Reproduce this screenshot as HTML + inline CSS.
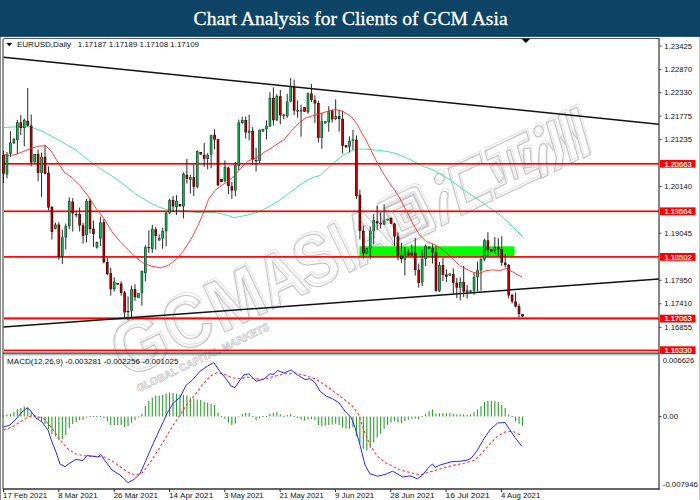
<!DOCTYPE html>
<html><head><meta charset="utf-8"><title>Chart Analysis for Clients of GCM Asia</title>
<style>html,body{margin:0;padding:0;background:#fff;width:700px;height:500px;overflow:hidden}svg{display:block}text{font-family:"Liberation Sans",sans-serif}.t{font-family:"Liberation Serif",serif}</style></head><body>
<svg width="700" height="500" viewBox="0 0 700 500">
<rect x="0" y="0" width="700" height="500" fill="#fff"/>
<rect x="0" y="0" width="700" height="36.6" fill="#0d4466"/>
<rect x="0" y="35.4" width="700" height="1.2" fill="#053a60"/>
<text class="t" x="350.6" y="24.8" font-size="19.3" fill="#fff" stroke="#fff" stroke-width="0.3" text-anchor="middle" textLength="314" lengthAdjust="spacingAndGlyphs">Chart Analysis for Clients of GCM Asia</text>
<rect x="0" y="37" width="1" height="463" fill="#8a8a8a"/>
<rect x="699" y="37" width="1" height="463" fill="#c8c8c8"/>
<g fill="none" stroke="#c6c6c6" stroke-width="1.25" transform="translate(126,379.5) rotate(-25.6)">
<g stroke="#e2e2e2" stroke-width="1" transform="translate(2.2,-2.4)"><text x="0" y="0" font-size="74" font-weight="bold" textLength="54" lengthAdjust="spacingAndGlyphs">G</text><text x="56.5" y="0" font-size="74" font-weight="bold" textLength="46" lengthAdjust="spacingAndGlyphs">C</text><text x="105.3" y="0" font-size="74" font-weight="bold" textLength="56" lengthAdjust="spacingAndGlyphs">M</text><text x="161" y="0" font-size="74" font-weight="bold" textLength="44" lengthAdjust="spacingAndGlyphs">A</text><text x="202.4" y="0" font-size="74" font-weight="bold" textLength="40" lengthAdjust="spacingAndGlyphs">S</text><text x="244" y="0" font-size="74" font-weight="bold" textLength="15" lengthAdjust="spacingAndGlyphs">I</text><text x="258" y="0" font-size="74" font-weight="bold" textLength="44" lengthAdjust="spacingAndGlyphs">A</text><g transform="translate(-8,-2) scale(1,1.04)"><g transform="translate(308,-46)"><rect x="0" y="0" width="46" height="47" rx="5"/><rect x="7" y="7" width="32" height="33" stroke-width="2"/><path d="M13 13h20v6h-14v9h14v6h-20z"/><path d="M24 21.5h9v4h-9z"/></g><g transform="translate(366,0) skewX(-10)"><circle cx="4" cy="-42" r="5"/><path d="M-7 0q1-16 7-27q3-4 7-1q2 3-1 7q-4 9-5 21z"/><path d="M15 -47h35v9h-26v28h26v9h-35z"/></g><g transform="translate(421,0) skewX(-10)"><path d="M1 -47h46v9h-13v28h15v9h-50v-9h14v-28h-12z"/><path d="M22 -38h4v28h-4z"/><path d="M2 -31l7-2 4 17-7 2zM46 -31l-7-2-4 17 7 2z"/></g><g transform="translate(476,0) skewX(-10)"><circle cx="4" cy="-42" r="5"/><path d="M-7 0q1-16 7-27q3-4 7-1q2 3-1 7q-4 9-5 21z"/><path d="M14 -46h8v34l-6 12h-8l6-12zM27 -47h8v46h-8zM40 -47h8v47h-8z"/><path d="M10 -28l3 9M23.5 -28l3 9M36.500 -28l3 9"/></g></g></g>
<text x="0" y="0" font-size="74" font-weight="bold" textLength="54" lengthAdjust="spacingAndGlyphs">G</text><text x="56.5" y="0" font-size="74" font-weight="bold" textLength="46" lengthAdjust="spacingAndGlyphs">C</text><text x="105.3" y="0" font-size="74" font-weight="bold" textLength="56" lengthAdjust="spacingAndGlyphs">M</text><text x="161" y="0" font-size="74" font-weight="bold" textLength="44" lengthAdjust="spacingAndGlyphs">A</text><text x="202.4" y="0" font-size="74" font-weight="bold" textLength="40" lengthAdjust="spacingAndGlyphs">S</text><text x="244" y="0" font-size="74" font-weight="bold" textLength="15" lengthAdjust="spacingAndGlyphs">I</text><text x="258" y="0" font-size="74" font-weight="bold" textLength="44" lengthAdjust="spacingAndGlyphs">A</text>
<text x="6" y="17" font-size="10.5" font-weight="bold" stroke-width="0.7" textLength="146" lengthAdjust="spacingAndGlyphs">GLOBAL CAPITAL MARKETS</text>
<g transform="translate(-8,-2) scale(1,1.04)"><g transform="translate(308,-46)"><rect x="0" y="0" width="46" height="47" rx="5"/><rect x="7" y="7" width="32" height="33" stroke-width="2"/><path d="M13 13h20v6h-14v9h14v6h-20z"/><path d="M24 21.5h9v4h-9z"/></g><g transform="translate(366,0) skewX(-10)"><circle cx="4" cy="-42" r="5"/><path d="M-7 0q1-16 7-27q3-4 7-1q2 3-1 7q-4 9-5 21z"/><path d="M15 -47h35v9h-26v28h26v9h-35z"/></g><g transform="translate(421,0) skewX(-10)"><path d="M1 -47h46v9h-13v28h15v9h-50v-9h14v-28h-12z"/><path d="M22 -38h4v28h-4z"/><path d="M2 -31l7-2 4 17-7 2zM46 -31l-7-2-4 17 7 2z"/></g><g transform="translate(476,0) skewX(-10)"><circle cx="4" cy="-42" r="5"/><path d="M-7 0q1-16 7-27q3-4 7-1q2 3-1 7q-4 9-5 21z"/><path d="M14 -46h8v34l-6 12h-8l6-12zM27 -47h8v46h-8zM40 -47h8v47h-8z"/><path d="M10 -28l3 9M23.5 -28l3 9M36.500 -28l3 9"/></g></g>
</g>
<g fill="none" stroke="#555" stroke-width="1.2">
<path d="M3 489V40.5Q3 38.5 5 38.5H659"/>
</g>
<path d="M659 38V489.5" stroke="#444" stroke-width="1.3" fill="none"/>
<path d="M3 353.2H659" stroke="#333" stroke-width="1.2" fill="none"/>
<path d="M3 354.8H659" stroke="#9a9a9a" stroke-width="1" fill="none"/>
<path d="M3 489H659.6" stroke="#333" stroke-width="1.3" fill="none"/>
<path d="M521.6 38.8H530.2L525.9 43z" fill="#000"/>
<rect x="359.5" y="246.3" width="155" height="10.5" fill="#00ff00"/>
<polyline points="3.5,127.5 16.0,126.9 30.4,126.7 40.0,130.4 51.2,136.0 64.0,143.2 75.2,149.6 83.2,156.0 96.0,165.6 104.0,171.2 112.0,176.0 125.0,185.5 135.0,193.6 143.0,198.4 151.0,203.2 159.0,207.2 167.0,209.6 175.0,210.4 186.2,210.4 194.2,212.3 203.8,212.8 215.0,212.5 224.6,214.4 234.2,217.6 240.6,216.5 247.0,215.2 260.0,211.5 270.0,206.0 280.0,200.0 290.0,192.5 300.0,185.0 310.0,178.5 320.0,175.4 328.0,168.2 336.0,161.0 344.0,154.6 352.0,150.3 358.4,149.0 368.0,149.3 377.6,150.3 387.2,151.4 396.8,153.8 406.4,157.8 416.0,162.6 424.0,166.6 432.0,169.5 441.0,174.5 450.0,180.0 462.0,188.5 475.0,197.5 487.0,206.0 500.0,215.0 511.0,225.0 522.5,236.5" fill="none" stroke="#3ee89a" stroke-width="0.95" stroke-linejoin="round"/>
<rect x="4" y="162.95" width="655" height="1.7" fill="#ff0000"/>
<rect x="4" y="210.45" width="655" height="1.7" fill="#ff0000"/>
<rect x="4" y="256.05" width="655" height="1.7" fill="#ff0000"/>
<rect x="4" y="349.55" width="655" height="1.7" fill="#ff0000"/>
<rect x="4" y="316.9" width="655" height="0.9" fill="#7f9a9a"/>
<rect x="4" y="317.75" width="655" height="1.7" fill="#ff0000"/>
<path d="M3.5 57.3L659 124.2" stroke="#111" stroke-width="1.5" fill="none"/>
<path d="M3.5 327L659 279" stroke="#111" stroke-width="1.5" fill="none"/>
<g shape-rendering="auto">
<rect x="3.00" y="151.0" width="1" height="32.0" fill="#2a2a2a"/>
<rect x="2.20" y="155.0" width="2.6" height="18.6" fill="#300000"/>
<rect x="2.85" y="155.5" width="1.3" height="17.6" fill="#c40000"/>
<rect x="6.46" y="152.0" width="1" height="26.4" fill="#2a2a2a"/>
<rect x="5.66" y="154.4" width="2.6" height="20.0" fill="#0a3a1c"/>
<rect x="6.31" y="154.9" width="1.3" height="19.0" fill="#12b858"/>
<rect x="9.92" y="131.2" width="1" height="25.6" fill="#2a2a2a"/>
<rect x="9.12" y="142.5" width="2.6" height="11.3" fill="#0a3a1c"/>
<rect x="9.77" y="143.0" width="1.3" height="10.3" fill="#12b858"/>
<rect x="13.38" y="137.6" width="1" height="6.4" fill="#2a2a2a"/>
<rect x="12.58" y="139.2" width="2.6" height="4.0" fill="#0a3a1c"/>
<rect x="13.23" y="139.7" width="1.3" height="3.0" fill="#12b858"/>
<rect x="16.84" y="120.0" width="1" height="34.0" fill="#2a2a2a"/>
<rect x="16.04" y="122.4" width="2.6" height="17.6" fill="#0a3a1c"/>
<rect x="16.69" y="122.9" width="1.3" height="16.6" fill="#12b858"/>
<rect x="20.30" y="115.2" width="1" height="20.0" fill="#2a2a2a"/>
<rect x="19.50" y="122.4" width="2.6" height="5.6" fill="#300000"/>
<rect x="20.15" y="122.9" width="1.3" height="4.6" fill="#c40000"/>
<rect x="23.76" y="118.4" width="1" height="28.0" fill="#2a2a2a"/>
<rect x="22.96" y="120.0" width="2.6" height="8.0" fill="#0a3a1c"/>
<rect x="23.61" y="120.5" width="1.3" height="7.0" fill="#12b858"/>
<rect x="27.22" y="88.0" width="1" height="38.4" fill="#2a2a2a"/>
<rect x="26.42" y="120.8" width="2.6" height="4.8" fill="#300000"/>
<rect x="27.07" y="121.3" width="1.3" height="3.8" fill="#c40000"/>
<rect x="30.68" y="114.4" width="1" height="52.0" fill="#2a2a2a"/>
<rect x="29.88" y="125.6" width="2.6" height="36.8" fill="#300000"/>
<rect x="30.53" y="126.1" width="1.3" height="35.8" fill="#c40000"/>
<rect x="34.14" y="154.0" width="1" height="8.4" fill="#2a2a2a"/>
<rect x="33.34" y="154.0" width="2.6" height="8.4" fill="#0a3a1c"/>
<rect x="33.99" y="154.5" width="1.3" height="7.4" fill="#12b858"/>
<rect x="37.60" y="149.6" width="1" height="31.7" fill="#2a2a2a"/>
<rect x="36.80" y="154.0" width="2.6" height="18.8" fill="#300000"/>
<rect x="37.45" y="154.5" width="1.3" height="17.8" fill="#c40000"/>
<rect x="41.06" y="152.5" width="1" height="44.3" fill="#2a2a2a"/>
<rect x="40.26" y="156.8" width="2.6" height="16.0" fill="#0a3a1c"/>
<rect x="40.91" y="157.3" width="1.3" height="15.0" fill="#12b858"/>
<rect x="44.52" y="144.8" width="1" height="29.6" fill="#2a2a2a"/>
<rect x="43.72" y="156.8" width="2.6" height="16.8" fill="#300000"/>
<rect x="44.37" y="157.3" width="1.3" height="15.8" fill="#c40000"/>
<rect x="47.98" y="166.4" width="1" height="44.0" fill="#2a2a2a"/>
<rect x="47.18" y="172.8" width="2.6" height="34.7" fill="#300000"/>
<rect x="47.83" y="173.3" width="1.3" height="33.7" fill="#c40000"/>
<rect x="51.44" y="206.0" width="1" height="33.5" fill="#2a2a2a"/>
<rect x="50.64" y="207.0" width="2.6" height="24.8" fill="#300000"/>
<rect x="51.29" y="207.5" width="1.3" height="23.8" fill="#c40000"/>
<rect x="54.90" y="222.5" width="1" height="6.9" fill="#2a2a2a"/>
<rect x="54.10" y="224.6" width="2.6" height="4.0" fill="#0a3a1c"/>
<rect x="54.75" y="225.1" width="1.3" height="3.0" fill="#12b858"/>
<rect x="58.36" y="222.2" width="1" height="37.6" fill="#2a2a2a"/>
<rect x="57.56" y="224.6" width="2.6" height="32.0" fill="#300000"/>
<rect x="58.21" y="225.1" width="1.3" height="31.0" fill="#c40000"/>
<rect x="61.82" y="229.4" width="1" height="34.4" fill="#2a2a2a"/>
<rect x="61.02" y="237.4" width="2.6" height="19.2" fill="#0a3a1c"/>
<rect x="61.67" y="237.9" width="1.3" height="18.2" fill="#12b858"/>
<rect x="65.28" y="223.5" width="1" height="25.9" fill="#2a2a2a"/>
<rect x="64.48" y="226.2" width="2.6" height="11.2" fill="#0a3a1c"/>
<rect x="65.13" y="226.7" width="1.3" height="10.2" fill="#12b858"/>
<rect x="68.74" y="197.4" width="1" height="32.0" fill="#2a2a2a"/>
<rect x="67.94" y="201.0" width="2.6" height="25.2" fill="#0a3a1c"/>
<rect x="68.59" y="201.5" width="1.3" height="24.2" fill="#12b858"/>
<rect x="72.20" y="198.2" width="1" height="33.3" fill="#2a2a2a"/>
<rect x="71.40" y="201.7" width="2.6" height="11.7" fill="#300000"/>
<rect x="72.05" y="202.2" width="1.3" height="10.7" fill="#c40000"/>
<rect x="75.66" y="211.8" width="1" height="5.6" fill="#2a2a2a"/>
<rect x="74.76" y="214.0" width="2.8" height="1.2" fill="#222"/>
<rect x="79.12" y="207.5" width="1" height="24.0" fill="#2a2a2a"/>
<rect x="78.32" y="213.9" width="2.6" height="11.5" fill="#300000"/>
<rect x="78.97" y="214.4" width="1.3" height="10.5" fill="#c40000"/>
<rect x="82.58" y="223.0" width="1" height="20.5" fill="#2a2a2a"/>
<rect x="81.78" y="225.4" width="2.6" height="10.4" fill="#300000"/>
<rect x="82.43" y="225.9" width="1.3" height="9.4" fill="#c40000"/>
<rect x="86.04" y="199.0" width="1" height="43.2" fill="#2a2a2a"/>
<rect x="85.24" y="201.0" width="2.6" height="34.0" fill="#0a3a1c"/>
<rect x="85.89" y="201.5" width="1.3" height="33.0" fill="#12b858"/>
<rect x="89.50" y="198.5" width="1" height="34.9" fill="#2a2a2a"/>
<rect x="88.70" y="200.6" width="2.6" height="28.4" fill="#300000"/>
<rect x="89.35" y="201.1" width="1.3" height="27.4" fill="#c40000"/>
<rect x="92.96" y="220.6" width="1" height="26.4" fill="#2a2a2a"/>
<rect x="92.16" y="228.6" width="2.6" height="5.3" fill="#300000"/>
<rect x="92.81" y="229.1" width="1.3" height="4.3" fill="#c40000"/>
<rect x="96.42" y="241.4" width="1" height="7.2" fill="#2a2a2a"/>
<rect x="95.62" y="242.2" width="2.6" height="5.3" fill="#0a3a1c"/>
<rect x="96.27" y="242.7" width="1.3" height="4.3" fill="#12b858"/>
<rect x="99.88" y="216.6" width="1" height="29.6" fill="#2a2a2a"/>
<rect x="99.08" y="222.5" width="2.6" height="16.0" fill="#0a3a1c"/>
<rect x="99.73" y="223.0" width="1.3" height="15.0" fill="#12b858"/>
<rect x="103.34" y="219.0" width="1" height="44.5" fill="#2a2a2a"/>
<rect x="102.54" y="222.2" width="2.6" height="40.0" fill="#300000"/>
<rect x="103.19" y="222.7" width="1.3" height="39.0" fill="#c40000"/>
<rect x="106.80" y="257.7" width="1" height="17.6" fill="#2a2a2a"/>
<rect x="106.00" y="262.0" width="2.6" height="12.0" fill="#300000"/>
<rect x="106.65" y="262.5" width="1.3" height="11.0" fill="#c40000"/>
<rect x="110.26" y="267.6" width="1" height="28.0" fill="#2a2a2a"/>
<rect x="109.46" y="273.2" width="2.6" height="16.0" fill="#300000"/>
<rect x="110.11" y="273.7" width="1.3" height="15.0" fill="#c40000"/>
<rect x="113.72" y="277.2" width="1" height="14.4" fill="#2a2a2a"/>
<rect x="112.92" y="281.7" width="2.6" height="7.5" fill="#0a3a1c"/>
<rect x="113.57" y="282.2" width="1.3" height="6.5" fill="#12b858"/>
<rect x="117.18" y="283.0" width="1" height="1.6" fill="#2a2a2a"/>
<rect x="116.38" y="283.0" width="2.6" height="1.6" fill="#300000"/>
<rect x="117.03" y="283.5" width="1.3" height="0.6" fill="#c40000"/>
<rect x="120.64" y="281.2" width="1" height="14.4" fill="#2a2a2a"/>
<rect x="119.84" y="283.6" width="2.6" height="9.3" fill="#300000"/>
<rect x="120.49" y="284.1" width="1.3" height="8.3" fill="#c40000"/>
<rect x="124.10" y="290.8" width="1" height="26.4" fill="#2a2a2a"/>
<rect x="123.30" y="292.4" width="2.6" height="20.0" fill="#300000"/>
<rect x="123.95" y="292.9" width="1.3" height="19.0" fill="#c40000"/>
<rect x="127.56" y="296.4" width="1" height="24.0" fill="#2a2a2a"/>
<rect x="126.66" y="311.0" width="2.8" height="1.2" fill="#222"/>
<rect x="131.02" y="286.0" width="1" height="31.2" fill="#2a2a2a"/>
<rect x="130.22" y="289.2" width="2.6" height="21.6" fill="#0a3a1c"/>
<rect x="130.87" y="289.7" width="1.3" height="20.6" fill="#12b858"/>
<rect x="134.48" y="284.4" width="1" height="16.5" fill="#2a2a2a"/>
<rect x="133.68" y="289.2" width="2.6" height="8.0" fill="#300000"/>
<rect x="134.33" y="289.7" width="1.3" height="7.0" fill="#c40000"/>
<rect x="137.94" y="293.2" width="1" height="4.5" fill="#2a2a2a"/>
<rect x="137.14" y="293.2" width="2.6" height="4.5" fill="#0a3a1c"/>
<rect x="137.79" y="293.7" width="1.3" height="3.5" fill="#12b858"/>
<rect x="141.40" y="270.5" width="1" height="35.2" fill="#2a2a2a"/>
<rect x="140.60" y="271.1" width="2.6" height="21.8" fill="#0a3a1c"/>
<rect x="141.25" y="271.6" width="1.3" height="20.8" fill="#12b858"/>
<rect x="144.86" y="245.3" width="1" height="35.9" fill="#2a2a2a"/>
<rect x="144.06" y="247.2" width="2.6" height="25.8" fill="#0a3a1c"/>
<rect x="144.71" y="247.7" width="1.3" height="24.8" fill="#12b858"/>
<rect x="148.32" y="230.4" width="1" height="22.4" fill="#2a2a2a"/>
<rect x="147.42" y="247.0" width="2.8" height="1.2" fill="#222"/>
<rect x="151.78" y="224.8" width="1" height="28.0" fill="#2a2a2a"/>
<rect x="150.98" y="228.8" width="2.6" height="20.0" fill="#0a3a1c"/>
<rect x="151.63" y="229.3" width="1.3" height="19.0" fill="#12b858"/>
<rect x="155.24" y="227.2" width="1" height="22.4" fill="#2a2a2a"/>
<rect x="154.44" y="229.3" width="2.6" height="6.7" fill="#300000"/>
<rect x="155.09" y="229.8" width="1.3" height="5.7" fill="#c40000"/>
<rect x="158.70" y="234.4" width="1" height="6.1" fill="#2a2a2a"/>
<rect x="157.90" y="238.0" width="2.6" height="2.5" fill="#0a3a1c"/>
<rect x="158.55" y="238.5" width="1.3" height="1.5" fill="#12b858"/>
<rect x="162.16" y="228.0" width="1" height="20.8" fill="#2a2a2a"/>
<rect x="161.36" y="230.9" width="2.6" height="7.5" fill="#0a3a1c"/>
<rect x="162.01" y="231.4" width="1.3" height="6.5" fill="#12b858"/>
<rect x="165.62" y="212.0" width="1" height="34.0" fill="#2a2a2a"/>
<rect x="164.82" y="212.8" width="2.6" height="18.4" fill="#0a3a1c"/>
<rect x="165.47" y="213.3" width="1.3" height="17.4" fill="#12b858"/>
<rect x="169.08" y="198.9" width="1" height="15.5" fill="#2a2a2a"/>
<rect x="168.28" y="200.0" width="2.6" height="12.8" fill="#0a3a1c"/>
<rect x="168.93" y="200.5" width="1.3" height="11.8" fill="#12b858"/>
<rect x="172.54" y="196.0" width="1" height="16.0" fill="#2a2a2a"/>
<rect x="171.74" y="200.0" width="2.6" height="6.4" fill="#300000"/>
<rect x="172.39" y="200.5" width="1.3" height="5.4" fill="#c40000"/>
<rect x="176.00" y="195.2" width="1" height="19.7" fill="#2a2a2a"/>
<rect x="175.20" y="200.8" width="2.6" height="6.1" fill="#0a3a1c"/>
<rect x="175.85" y="201.3" width="1.3" height="5.1" fill="#12b858"/>
<rect x="179.46" y="204.0" width="1" height="2.4" fill="#2a2a2a"/>
<rect x="178.66" y="204.0" width="2.6" height="2.4" fill="#300000"/>
<rect x="179.31" y="204.5" width="1.3" height="1.4" fill="#c40000"/>
<rect x="182.92" y="172.4" width="1" height="46.0" fill="#2a2a2a"/>
<rect x="182.12" y="174.0" width="2.6" height="32.4" fill="#0a3a1c"/>
<rect x="182.77" y="174.5" width="1.3" height="31.4" fill="#12b858"/>
<rect x="186.38" y="158.8" width="1" height="24.8" fill="#2a2a2a"/>
<rect x="185.58" y="174.8" width="2.6" height="4.0" fill="#300000"/>
<rect x="186.23" y="175.3" width="1.3" height="3.0" fill="#c40000"/>
<rect x="189.84" y="174.8" width="1" height="18.8" fill="#2a2a2a"/>
<rect x="189.04" y="177.2" width="2.6" height="2.4" fill="#0a3a1c"/>
<rect x="189.69" y="177.7" width="1.3" height="1.4" fill="#12b858"/>
<rect x="193.30" y="164.4" width="1" height="31.6" fill="#2a2a2a"/>
<rect x="192.50" y="177.2" width="2.6" height="9.6" fill="#300000"/>
<rect x="193.15" y="177.7" width="1.3" height="8.6" fill="#c40000"/>
<rect x="196.76" y="150.3" width="1" height="37.7" fill="#2a2a2a"/>
<rect x="195.96" y="151.3" width="2.6" height="35.5" fill="#0a3a1c"/>
<rect x="196.61" y="151.8" width="1.3" height="34.5" fill="#12b858"/>
<rect x="200.22" y="152.0" width="1" height="2.5" fill="#2a2a2a"/>
<rect x="199.42" y="152.0" width="2.6" height="2.5" fill="#300000"/>
<rect x="200.07" y="152.5" width="1.3" height="1.5" fill="#c40000"/>
<rect x="203.68" y="142.8" width="1" height="24.0" fill="#2a2a2a"/>
<rect x="202.88" y="154.8" width="2.6" height="4.0" fill="#300000"/>
<rect x="203.53" y="155.3" width="1.3" height="3.0" fill="#c40000"/>
<rect x="207.14" y="153.2" width="1" height="16.0" fill="#2a2a2a"/>
<rect x="206.34" y="154.8" width="2.6" height="4.0" fill="#0a3a1c"/>
<rect x="206.99" y="155.3" width="1.3" height="3.0" fill="#12b858"/>
<rect x="210.60" y="134.8" width="1" height="33.6" fill="#2a2a2a"/>
<rect x="209.80" y="135.3" width="2.6" height="19.2" fill="#0a3a1c"/>
<rect x="210.45" y="135.8" width="1.3" height="18.2" fill="#12b858"/>
<rect x="214.06" y="129.2" width="1" height="20.0" fill="#2a2a2a"/>
<rect x="213.26" y="134.8" width="2.6" height="4.8" fill="#300000"/>
<rect x="213.91" y="135.3" width="1.3" height="3.8" fill="#c40000"/>
<rect x="217.52" y="138.8" width="1" height="47.2" fill="#2a2a2a"/>
<rect x="216.72" y="139.3" width="2.6" height="45.9" fill="#300000"/>
<rect x="217.37" y="139.8" width="1.3" height="44.9" fill="#c40000"/>
<rect x="220.98" y="179.0" width="1" height="3.0" fill="#2a2a2a"/>
<rect x="220.18" y="179.0" width="2.6" height="3.0" fill="#300000"/>
<rect x="220.83" y="179.5" width="1.3" height="2.0" fill="#c40000"/>
<rect x="224.44" y="160.4" width="1" height="21.6" fill="#2a2a2a"/>
<rect x="223.64" y="166.8" width="2.6" height="14.4" fill="#0a3a1c"/>
<rect x="224.29" y="167.3" width="1.3" height="13.4" fill="#12b858"/>
<rect x="227.90" y="166.8" width="1" height="27.2" fill="#2a2a2a"/>
<rect x="227.10" y="167.6" width="2.6" height="18.4" fill="#300000"/>
<rect x="227.75" y="168.1" width="1.3" height="17.4" fill="#c40000"/>
<rect x="231.36" y="182.0" width="1" height="16.9" fill="#2a2a2a"/>
<rect x="230.56" y="186.4" width="2.6" height="4.0" fill="#300000"/>
<rect x="231.21" y="186.9" width="1.3" height="3.0" fill="#c40000"/>
<rect x="234.82" y="162.0" width="1" height="34.0" fill="#2a2a2a"/>
<rect x="234.02" y="165.2" width="2.6" height="25.2" fill="#0a3a1c"/>
<rect x="234.67" y="165.7" width="1.3" height="24.2" fill="#12b858"/>
<rect x="238.28" y="119.6" width="1" height="50.4" fill="#2a2a2a"/>
<rect x="237.48" y="122.5" width="2.6" height="43.5" fill="#0a3a1c"/>
<rect x="238.13" y="123.0" width="1.3" height="42.5" fill="#12b858"/>
<rect x="241.74" y="116.7" width="1" height="7.3" fill="#2a2a2a"/>
<rect x="240.94" y="120.0" width="2.6" height="3.0" fill="#0a3a1c"/>
<rect x="241.59" y="120.5" width="1.3" height="2.0" fill="#12b858"/>
<rect x="245.20" y="116.4" width="1" height="22.1" fill="#2a2a2a"/>
<rect x="244.40" y="120.0" width="2.6" height="12.4" fill="#300000"/>
<rect x="245.05" y="120.5" width="1.3" height="11.4" fill="#c40000"/>
<rect x="248.66" y="114.8" width="1" height="25.6" fill="#2a2a2a"/>
<rect x="247.86" y="130.8" width="2.6" height="1.9" fill="#0a3a1c"/>
<rect x="248.51" y="131.3" width="1.3" height="0.9" fill="#12b858"/>
<rect x="252.12" y="127.3" width="1" height="37.9" fill="#2a2a2a"/>
<rect x="251.32" y="130.8" width="2.6" height="28.8" fill="#300000"/>
<rect x="251.97" y="131.3" width="1.3" height="27.8" fill="#c40000"/>
<rect x="255.58" y="147.6" width="1" height="24.0" fill="#2a2a2a"/>
<rect x="254.68" y="160.0" width="2.8" height="1.2" fill="#222"/>
<rect x="259.04" y="129.5" width="1" height="33.5" fill="#2a2a2a"/>
<rect x="258.24" y="130.0" width="2.6" height="30.9" fill="#0a3a1c"/>
<rect x="258.89" y="130.5" width="1.3" height="29.9" fill="#12b858"/>
<rect x="262.50" y="128.9" width="1" height="2.7" fill="#2a2a2a"/>
<rect x="261.70" y="128.9" width="2.6" height="2.7" fill="#0a3a1c"/>
<rect x="262.35" y="129.4" width="1.3" height="1.7" fill="#12b858"/>
<rect x="265.96" y="120.3" width="1" height="19.2" fill="#2a2a2a"/>
<rect x="265.16" y="126.0" width="2.6" height="3.2" fill="#0a3a1c"/>
<rect x="265.81" y="126.5" width="1.3" height="2.2" fill="#12b858"/>
<rect x="269.42" y="92.2" width="1" height="34.8" fill="#2a2a2a"/>
<rect x="268.62" y="97.8" width="2.6" height="28.6" fill="#0a3a1c"/>
<rect x="269.27" y="98.3" width="1.3" height="27.6" fill="#12b858"/>
<rect x="272.88" y="87.4" width="1" height="38.1" fill="#2a2a2a"/>
<rect x="272.08" y="97.8" width="2.6" height="22.4" fill="#300000"/>
<rect x="272.73" y="98.3" width="1.3" height="21.4" fill="#c40000"/>
<rect x="276.34" y="94.1" width="1" height="26.9" fill="#2a2a2a"/>
<rect x="275.54" y="96.2" width="2.6" height="24.0" fill="#0a3a1c"/>
<rect x="276.19" y="96.7" width="1.3" height="23.0" fill="#12b858"/>
<rect x="279.80" y="89.8" width="1" height="34.4" fill="#2a2a2a"/>
<rect x="279.00" y="96.2" width="2.6" height="19.2" fill="#300000"/>
<rect x="279.65" y="96.7" width="1.3" height="18.2" fill="#c40000"/>
<rect x="283.26" y="113.8" width="1" height="5.6" fill="#2a2a2a"/>
<rect x="282.46" y="114.6" width="2.6" height="1.6" fill="#0a3a1c"/>
<rect x="283.11" y="115.1" width="1.3" height="0.6" fill="#12b858"/>
<rect x="286.72" y="93.8" width="1" height="24.0" fill="#2a2a2a"/>
<rect x="285.92" y="101.5" width="2.6" height="14.7" fill="#0a3a1c"/>
<rect x="286.57" y="102.0" width="1.3" height="13.7" fill="#12b858"/>
<rect x="290.18" y="78.1" width="1" height="24.0" fill="#2a2a2a"/>
<rect x="289.38" y="86.6" width="2.6" height="14.9" fill="#0a3a1c"/>
<rect x="290.03" y="87.1" width="1.3" height="13.9" fill="#12b858"/>
<rect x="293.64" y="79.7" width="1" height="35.3" fill="#2a2a2a"/>
<rect x="292.84" y="87.0" width="2.6" height="23.6" fill="#300000"/>
<rect x="293.49" y="87.5" width="1.3" height="22.6" fill="#c40000"/>
<rect x="297.10" y="100.5" width="1" height="17.3" fill="#2a2a2a"/>
<rect x="296.20" y="110.2" width="2.8" height="1.2" fill="#222"/>
<rect x="300.56" y="104.7" width="1" height="32.0" fill="#2a2a2a"/>
<rect x="299.66" y="110.2" width="2.8" height="1.2" fill="#222"/>
<rect x="304.02" y="107.0" width="1" height="4.7" fill="#2a2a2a"/>
<rect x="303.22" y="107.0" width="2.6" height="4.7" fill="#300000"/>
<rect x="303.87" y="107.5" width="1.3" height="3.7" fill="#c40000"/>
<rect x="307.48" y="92.5" width="1" height="21.3" fill="#2a2a2a"/>
<rect x="306.68" y="93.5" width="2.6" height="18.7" fill="#0a3a1c"/>
<rect x="307.33" y="94.0" width="1.3" height="17.7" fill="#12b858"/>
<rect x="310.94" y="83.9" width="1" height="18.2" fill="#2a2a2a"/>
<rect x="310.14" y="93.5" width="2.6" height="6.4" fill="#300000"/>
<rect x="310.79" y="94.0" width="1.3" height="5.4" fill="#c40000"/>
<rect x="314.40" y="95.4" width="1" height="27.5" fill="#2a2a2a"/>
<rect x="313.60" y="99.9" width="2.6" height="3.5" fill="#300000"/>
<rect x="314.25" y="100.4" width="1.3" height="2.5" fill="#c40000"/>
<rect x="317.86" y="101.0" width="1" height="41.6" fill="#2a2a2a"/>
<rect x="317.06" y="103.0" width="2.6" height="34.8" fill="#300000"/>
<rect x="317.71" y="103.5" width="1.3" height="33.8" fill="#c40000"/>
<rect x="321.32" y="113.0" width="1" height="35.7" fill="#2a2a2a"/>
<rect x="320.52" y="121.3" width="2.6" height="16.5" fill="#0a3a1c"/>
<rect x="321.17" y="121.8" width="1.3" height="15.5" fill="#12b858"/>
<rect x="324.78" y="121.3" width="1" height="2.1" fill="#2a2a2a"/>
<rect x="323.98" y="121.3" width="2.6" height="2.1" fill="#0a3a1c"/>
<rect x="324.63" y="121.8" width="1.3" height="1.1" fill="#12b858"/>
<rect x="328.24" y="106.3" width="1" height="25.5" fill="#2a2a2a"/>
<rect x="327.44" y="111.4" width="2.6" height="10.9" fill="#0a3a1c"/>
<rect x="328.09" y="111.9" width="1.3" height="9.9" fill="#12b858"/>
<rect x="331.70" y="109.8" width="1" height="12.8" fill="#2a2a2a"/>
<rect x="330.90" y="110.6" width="2.6" height="8.8" fill="#300000"/>
<rect x="331.55" y="111.1" width="1.3" height="7.8" fill="#c40000"/>
<rect x="335.16" y="99.4" width="1" height="20.8" fill="#2a2a2a"/>
<rect x="334.36" y="116.2" width="2.6" height="2.8" fill="#0a3a1c"/>
<rect x="335.01" y="116.7" width="1.3" height="1.8" fill="#12b858"/>
<rect x="338.62" y="109.8" width="1" height="21.9" fill="#2a2a2a"/>
<rect x="337.82" y="116.2" width="2.6" height="2.8" fill="#300000"/>
<rect x="338.47" y="116.7" width="1.3" height="1.8" fill="#c40000"/>
<rect x="342.08" y="110.6" width="1" height="42.9" fill="#2a2a2a"/>
<rect x="341.28" y="119.0" width="2.6" height="26.8" fill="#300000"/>
<rect x="341.93" y="119.5" width="1.3" height="25.8" fill="#c40000"/>
<rect x="345.54" y="145.0" width="1" height="2.4" fill="#2a2a2a"/>
<rect x="344.74" y="145.0" width="2.6" height="2.4" fill="#300000"/>
<rect x="345.39" y="145.5" width="1.3" height="1.4" fill="#c40000"/>
<rect x="349.00" y="136.5" width="1" height="16.0" fill="#2a2a2a"/>
<rect x="348.20" y="141.0" width="2.6" height="5.6" fill="#0a3a1c"/>
<rect x="348.85" y="141.5" width="1.3" height="4.6" fill="#12b858"/>
<rect x="352.46" y="129.8" width="1" height="20.0" fill="#2a2a2a"/>
<rect x="351.66" y="139.4" width="2.6" height="1.6" fill="#0a3a1c"/>
<rect x="352.31" y="139.4" width="1.3" height="1.6" fill="#12b858"/>
<rect x="355.92" y="135.4" width="1" height="63.4" fill="#2a2a2a"/>
<rect x="355.12" y="139.7" width="2.6" height="56.3" fill="#300000"/>
<rect x="355.77" y="140.2" width="1.3" height="55.3" fill="#c40000"/>
<rect x="359.38" y="189.8" width="1" height="49.8" fill="#2a2a2a"/>
<rect x="358.58" y="194.8" width="2.6" height="36.0" fill="#300000"/>
<rect x="359.23" y="195.3" width="1.3" height="35.0" fill="#c40000"/>
<rect x="362.84" y="225.5" width="1" height="33.0" fill="#2a2a2a"/>
<rect x="362.04" y="230.8" width="2.6" height="22.4" fill="#300000"/>
<rect x="362.69" y="231.3" width="1.3" height="21.4" fill="#c40000"/>
<rect x="366.30" y="248.4" width="1" height="5.6" fill="#2a2a2a"/>
<rect x="365.50" y="248.4" width="2.6" height="5.6" fill="#0a3a1c"/>
<rect x="366.15" y="248.9" width="1.3" height="4.6" fill="#12b858"/>
<rect x="369.76" y="226.5" width="1" height="32.3" fill="#2a2a2a"/>
<rect x="368.96" y="230.8" width="2.6" height="17.6" fill="#0a3a1c"/>
<rect x="369.61" y="231.3" width="1.3" height="16.6" fill="#12b858"/>
<rect x="373.22" y="214.0" width="1" height="30.4" fill="#2a2a2a"/>
<rect x="372.42" y="220.0" width="2.6" height="11.3" fill="#0a3a1c"/>
<rect x="373.07" y="220.5" width="1.3" height="10.3" fill="#12b858"/>
<rect x="376.68" y="206.0" width="1" height="24.0" fill="#2a2a2a"/>
<rect x="375.88" y="221.2" width="2.6" height="2.1" fill="#300000"/>
<rect x="376.53" y="221.7" width="1.3" height="1.1" fill="#c40000"/>
<rect x="380.14" y="212.4" width="1" height="16.0" fill="#2a2a2a"/>
<rect x="379.34" y="222.8" width="2.6" height="1.6" fill="#300000"/>
<rect x="379.99" y="222.8" width="1.3" height="1.6" fill="#c40000"/>
<rect x="383.60" y="204.4" width="1" height="20.8" fill="#2a2a2a"/>
<rect x="382.80" y="220.7" width="2.6" height="3.7" fill="#0a3a1c"/>
<rect x="383.45" y="221.2" width="1.3" height="2.7" fill="#12b858"/>
<rect x="387.06" y="218.8" width="1" height="1.6" fill="#2a2a2a"/>
<rect x="386.26" y="218.8" width="2.6" height="1.6" fill="#0a3a1c"/>
<rect x="386.91" y="218.8" width="1.3" height="1.6" fill="#12b858"/>
<rect x="390.52" y="217.2" width="1" height="6.8" fill="#2a2a2a"/>
<rect x="389.72" y="218.0" width="2.6" height="5.6" fill="#300000"/>
<rect x="390.37" y="218.5" width="1.3" height="4.6" fill="#c40000"/>
<rect x="393.98" y="222.8" width="1" height="23.2" fill="#2a2a2a"/>
<rect x="393.18" y="223.6" width="2.6" height="12.8" fill="#300000"/>
<rect x="393.83" y="224.1" width="1.3" height="11.8" fill="#c40000"/>
<rect x="397.44" y="232.4" width="1" height="28.0" fill="#2a2a2a"/>
<rect x="396.64" y="236.4" width="2.6" height="19.2" fill="#300000"/>
<rect x="397.29" y="236.9" width="1.3" height="18.2" fill="#c40000"/>
<rect x="400.90" y="242.8" width="1" height="20.0" fill="#2a2a2a"/>
<rect x="400.10" y="255.6" width="2.6" height="3.6" fill="#300000"/>
<rect x="400.75" y="256.1" width="1.3" height="2.6" fill="#c40000"/>
<rect x="404.36" y="246.8" width="1" height="28.8" fill="#2a2a2a"/>
<rect x="403.56" y="251.6" width="2.6" height="8.0" fill="#0a3a1c"/>
<rect x="404.21" y="252.1" width="1.3" height="7.0" fill="#12b858"/>
<rect x="407.82" y="249.4" width="1" height="6.6" fill="#2a2a2a"/>
<rect x="407.02" y="252.6" width="2.6" height="2.8" fill="#300000"/>
<rect x="407.67" y="253.1" width="1.3" height="1.8" fill="#c40000"/>
<rect x="411.28" y="244.4" width="1" height="11.6" fill="#2a2a2a"/>
<rect x="410.48" y="252.6" width="2.6" height="2.8" fill="#300000"/>
<rect x="411.13" y="253.1" width="1.3" height="1.8" fill="#c40000"/>
<rect x="414.74" y="238.0" width="1" height="37.6" fill="#2a2a2a"/>
<rect x="413.94" y="252.5" width="2.6" height="17.5" fill="#300000"/>
<rect x="414.59" y="253.0" width="1.3" height="16.5" fill="#c40000"/>
<rect x="418.20" y="263.6" width="1" height="24.0" fill="#2a2a2a"/>
<rect x="417.40" y="269.7" width="2.6" height="13.1" fill="#300000"/>
<rect x="418.05" y="270.2" width="1.3" height="12.1" fill="#c40000"/>
<rect x="421.66" y="250.0" width="1" height="36.3" fill="#2a2a2a"/>
<rect x="420.86" y="259.1" width="2.6" height="23.4" fill="#0a3a1c"/>
<rect x="421.51" y="259.6" width="1.3" height="22.4" fill="#12b858"/>
<rect x="425.12" y="244.4" width="1" height="21.6" fill="#2a2a2a"/>
<rect x="424.32" y="246.0" width="2.6" height="13.1" fill="#0a3a1c"/>
<rect x="424.97" y="246.5" width="1.3" height="12.1" fill="#12b858"/>
<rect x="428.58" y="246.8" width="1" height="1.6" fill="#2a2a2a"/>
<rect x="427.78" y="246.8" width="2.6" height="1.6" fill="#300000"/>
<rect x="428.43" y="246.8" width="1.3" height="1.6" fill="#c40000"/>
<rect x="432.04" y="244.2" width="1" height="19.4" fill="#2a2a2a"/>
<rect x="431.24" y="248.4" width="2.6" height="4.0" fill="#300000"/>
<rect x="431.89" y="248.9" width="1.3" height="3.0" fill="#c40000"/>
<rect x="435.50" y="246.0" width="1" height="45.6" fill="#2a2a2a"/>
<rect x="434.70" y="252.4" width="2.6" height="38.4" fill="#300000"/>
<rect x="435.35" y="252.9" width="1.3" height="37.4" fill="#c40000"/>
<rect x="438.96" y="262.0" width="1" height="30.0" fill="#2a2a2a"/>
<rect x="438.16" y="265.2" width="2.6" height="25.6" fill="#0a3a1c"/>
<rect x="438.81" y="265.7" width="1.3" height="24.6" fill="#12b858"/>
<rect x="442.42" y="258.0" width="1" height="22.9" fill="#2a2a2a"/>
<rect x="441.62" y="265.2" width="2.6" height="9.6" fill="#300000"/>
<rect x="442.27" y="265.7" width="1.3" height="8.6" fill="#c40000"/>
<rect x="445.88" y="269.2" width="1" height="12.8" fill="#2a2a2a"/>
<rect x="445.08" y="274.5" width="2.6" height="2.2" fill="#300000"/>
<rect x="445.73" y="275.0" width="1.3" height="1.2" fill="#c40000"/>
<rect x="449.34" y="273.5" width="1" height="2.1" fill="#2a2a2a"/>
<rect x="448.54" y="273.5" width="2.6" height="2.1" fill="#0a3a1c"/>
<rect x="449.19" y="274.0" width="1.3" height="1.1" fill="#12b858"/>
<rect x="452.80" y="268.4" width="1" height="25.6" fill="#2a2a2a"/>
<rect x="452.00" y="274.0" width="2.6" height="8.8" fill="#300000"/>
<rect x="452.65" y="274.5" width="1.3" height="7.8" fill="#c40000"/>
<rect x="456.26" y="278.0" width="1" height="20.0" fill="#2a2a2a"/>
<rect x="455.46" y="282.8" width="2.6" height="4.8" fill="#300000"/>
<rect x="456.11" y="283.3" width="1.3" height="3.8" fill="#c40000"/>
<rect x="459.72" y="277.2" width="1" height="23.2" fill="#2a2a2a"/>
<rect x="458.92" y="282.0" width="2.6" height="5.6" fill="#0a3a1c"/>
<rect x="459.57" y="282.5" width="1.3" height="4.6" fill="#12b858"/>
<rect x="463.18" y="266.0" width="1" height="31.2" fill="#2a2a2a"/>
<rect x="462.38" y="282.0" width="2.6" height="9.6" fill="#300000"/>
<rect x="463.03" y="282.5" width="1.3" height="8.6" fill="#c40000"/>
<rect x="466.64" y="285.2" width="1" height="13.3" fill="#2a2a2a"/>
<rect x="465.74" y="290.4" width="2.8" height="1.2" fill="#222"/>
<rect x="470.10" y="290.0" width="1" height="2.0" fill="#2a2a2a"/>
<rect x="469.30" y="290.5" width="2.6" height="1.2" fill="#0a3a1c"/>
<rect x="469.95" y="290.5" width="1.3" height="1.2" fill="#12b858"/>
<rect x="473.56" y="272.9" width="1" height="21.9" fill="#2a2a2a"/>
<rect x="472.76" y="277.1" width="2.6" height="13.6" fill="#0a3a1c"/>
<rect x="473.41" y="277.6" width="1.3" height="12.6" fill="#12b858"/>
<rect x="477.02" y="261.6" width="1" height="30.0" fill="#2a2a2a"/>
<rect x="476.22" y="270.2" width="2.6" height="6.9" fill="#0a3a1c"/>
<rect x="476.87" y="270.7" width="1.3" height="5.9" fill="#12b858"/>
<rect x="480.48" y="257.8" width="1" height="32.9" fill="#2a2a2a"/>
<rect x="479.68" y="259.0" width="2.6" height="11.4" fill="#0a3a1c"/>
<rect x="480.33" y="259.5" width="1.3" height="10.4" fill="#12b858"/>
<rect x="483.94" y="238.7" width="1" height="22.6" fill="#2a2a2a"/>
<rect x="483.14" y="240.3" width="2.6" height="19.2" fill="#0a3a1c"/>
<rect x="483.79" y="240.8" width="1.3" height="18.2" fill="#12b858"/>
<rect x="487.40" y="232.3" width="1" height="23.7" fill="#2a2a2a"/>
<rect x="486.60" y="240.3" width="2.6" height="9.6" fill="#300000"/>
<rect x="487.25" y="240.8" width="1.3" height="8.6" fill="#c40000"/>
<rect x="490.86" y="249.4" width="1" height="2.1" fill="#2a2a2a"/>
<rect x="490.06" y="249.4" width="2.6" height="2.1" fill="#300000"/>
<rect x="490.71" y="249.9" width="1.3" height="1.1" fill="#c40000"/>
<rect x="494.32" y="237.1" width="1" height="16.3" fill="#2a2a2a"/>
<rect x="493.52" y="247.5" width="2.6" height="3.4" fill="#0a3a1c"/>
<rect x="494.17" y="248.0" width="1.3" height="2.4" fill="#12b858"/>
<rect x="497.78" y="238.3" width="1" height="17.9" fill="#2a2a2a"/>
<rect x="496.98" y="247.4" width="2.6" height="2.0" fill="#300000"/>
<rect x="497.63" y="247.9" width="1.3" height="1.0" fill="#c40000"/>
<rect x="501.24" y="236.2" width="1" height="29.6" fill="#2a2a2a"/>
<rect x="500.44" y="249.0" width="2.6" height="13.6" fill="#300000"/>
<rect x="501.09" y="249.5" width="1.3" height="12.6" fill="#c40000"/>
<rect x="504.70" y="254.1" width="1" height="13.3" fill="#2a2a2a"/>
<rect x="503.90" y="262.6" width="2.6" height="2.4" fill="#300000"/>
<rect x="504.55" y="263.1" width="1.3" height="1.4" fill="#c40000"/>
<rect x="508.16" y="264.0" width="1" height="34.5" fill="#2a2a2a"/>
<rect x="507.36" y="265.0" width="2.6" height="30.4" fill="#300000"/>
<rect x="508.01" y="265.5" width="1.3" height="29.4" fill="#c40000"/>
<rect x="511.62" y="294.0" width="1" height="9.5" fill="#2a2a2a"/>
<rect x="510.82" y="295.0" width="2.6" height="6.5" fill="#300000"/>
<rect x="511.47" y="295.5" width="1.3" height="5.5" fill="#c40000"/>
<rect x="515.08" y="292.5" width="1" height="15.0" fill="#2a2a2a"/>
<rect x="514.28" y="301.5" width="2.6" height="5.0" fill="#300000"/>
<rect x="514.93" y="302.0" width="1.3" height="4.0" fill="#c40000"/>
<rect x="518.54" y="303.5" width="1" height="14.0" fill="#2a2a2a"/>
<rect x="517.74" y="306.2" width="2.6" height="7.8" fill="#300000"/>
<rect x="518.39" y="306.7" width="1.3" height="6.8" fill="#c40000"/>
<rect x="522.00" y="314.0" width="1" height="3.0" fill="#2a2a2a"/>
<rect x="521.20" y="314.0" width="2.6" height="2.5" fill="#300000"/>
<rect x="521.85" y="314.5" width="1.3" height="1.5" fill="#c40000"/>
</g>
<polyline points="3.5,154.6 9.6,155.6 16.0,154.4 24.0,151.2 32.0,148.0 38.4,146.2 45.6,145.8 51.2,151.0 56.0,159.2 59.2,164.0 64.0,172.0 72.0,177.6 80.0,185.6 88.0,196.0 96.0,208.3 104.0,218.7 112.0,231.8 120.0,241.4 128.0,249.6 134.8,256.4 142.8,262.8 150.8,266.0 160.4,267.9 168.4,265.2 176.4,259.2 183.0,251.5 191.0,239.2 199.0,223.2 203.8,212.0 208.6,199.2 215.0,190.4 221.4,185.6 227.8,181.4 232.0,178.0 240.0,169.2 248.0,161.2 256.0,158.0 264.0,152.4 272.0,147.6 275.6,145.0 283.6,140.2 291.6,130.6 299.6,122.6 306.0,117.8 314.0,115.4 322.0,113.0 330.0,110.6 335.6,109.5 342.8,111.4 350.8,116.2 357.2,124.2 362.0,133.8 364.8,137.8 371.2,150.6 377.6,163.4 384.0,174.6 390.4,184.2 396.8,193.4 401.6,201.5 407.2,212.4 413.6,225.2 420.0,235.5 426.4,241.6 432.8,243.8 439.2,247.0 445.6,252.0 452.0,258.5 460.4,266.0 466.8,269.2 473.2,272.4 479.6,273.3 486.0,270.6 492.4,270.0 500.4,270.4 506.0,268.5 513.2,272.2 522.0,277.0" fill="none" stroke="#ff2020" stroke-width="0.85" stroke-linejoin="round"/>
<rect x="2.95" y="415.00" width="1.1" height="1.50" fill="#2e9e2e"/>
<rect x="6.41" y="414.40" width="1.1" height="2.10" fill="#2e9e2e"/>
<rect x="9.87" y="413.60" width="1.1" height="2.90" fill="#2e9e2e"/>
<rect x="13.33" y="412.00" width="1.1" height="4.50" fill="#2e9e2e"/>
<rect x="16.79" y="409.00" width="1.1" height="7.50" fill="#2e9e2e"/>
<rect x="20.25" y="408.00" width="1.1" height="8.50" fill="#2e9e2e"/>
<rect x="23.71" y="406.40" width="1.1" height="10.10" fill="#2e9e2e"/>
<rect x="27.17" y="407.00" width="1.1" height="9.50" fill="#2e9e2e"/>
<rect x="30.63" y="412.00" width="1.1" height="4.50" fill="#2e9e2e"/>
<rect x="34.09" y="415.00" width="1.1" height="1.50" fill="#2e9e2e"/>
<rect x="37.55" y="416.50" width="1.1" height="2.50" fill="#2e9e2e"/>
<rect x="41.01" y="416.50" width="1.1" height="4.50" fill="#2e9e2e"/>
<rect x="44.47" y="416.50" width="1.1" height="7.50" fill="#2e9e2e"/>
<rect x="47.93" y="416.50" width="1.1" height="12.50" fill="#2e9e2e"/>
<rect x="51.39" y="416.50" width="1.1" height="17.50" fill="#2e9e2e"/>
<rect x="54.85" y="416.50" width="1.1" height="19.50" fill="#2e9e2e"/>
<rect x="58.31" y="416.50" width="1.1" height="23.50" fill="#2e9e2e"/>
<rect x="61.77" y="416.50" width="1.1" height="22.50" fill="#2e9e2e"/>
<rect x="65.23" y="416.50" width="1.1" height="18.50" fill="#2e9e2e"/>
<rect x="68.69" y="416.50" width="1.1" height="11.50" fill="#2e9e2e"/>
<rect x="72.15" y="416.50" width="1.1" height="7.50" fill="#2e9e2e"/>
<rect x="75.61" y="416.50" width="1.1" height="5.50" fill="#2e9e2e"/>
<rect x="79.07" y="416.50" width="1.1" height="3.50" fill="#2e9e2e"/>
<rect x="82.53" y="416.50" width="1.1" height="3.50" fill="#2e9e2e"/>
<rect x="85.99" y="416.50" width="1.1" height="1.00" fill="#2e9e2e"/>
<rect x="89.45" y="416.00" width="1.1" height="1.00" fill="#2e9e2e"/>
<rect x="92.91" y="416.00" width="1.1" height="1.00" fill="#2e9e2e"/>
<rect x="96.37" y="416.00" width="1.1" height="1.00" fill="#2e9e2e"/>
<rect x="99.83" y="416.00" width="1.1" height="1.00" fill="#2e9e2e"/>
<rect x="103.29" y="416.50" width="1.1" height="1.50" fill="#2e9e2e"/>
<rect x="106.75" y="416.50" width="1.1" height="4.50" fill="#2e9e2e"/>
<rect x="110.21" y="416.50" width="1.1" height="8.50" fill="#2e9e2e"/>
<rect x="113.67" y="416.50" width="1.1" height="8.50" fill="#2e9e2e"/>
<rect x="117.13" y="416.50" width="1.1" height="8.50" fill="#2e9e2e"/>
<rect x="120.59" y="416.50" width="1.1" height="8.50" fill="#2e9e2e"/>
<rect x="124.05" y="416.50" width="1.1" height="10.50" fill="#2e9e2e"/>
<rect x="127.51" y="416.50" width="1.1" height="9.50" fill="#2e9e2e"/>
<rect x="130.97" y="416.50" width="1.1" height="6.00" fill="#2e9e2e"/>
<rect x="134.43" y="416.50" width="1.1" height="3.50" fill="#2e9e2e"/>
<rect x="137.89" y="416.50" width="1.1" height="1.00" fill="#2e9e2e"/>
<rect x="141.35" y="413.75" width="1.1" height="2.75" fill="#2e9e2e"/>
<rect x="144.81" y="406.00" width="1.1" height="10.50" fill="#2e9e2e"/>
<rect x="148.27" y="401.00" width="1.1" height="15.50" fill="#2e9e2e"/>
<rect x="151.73" y="397.50" width="1.1" height="19.00" fill="#2e9e2e"/>
<rect x="155.19" y="395.50" width="1.1" height="21.00" fill="#2e9e2e"/>
<rect x="158.65" y="395.50" width="1.1" height="21.00" fill="#2e9e2e"/>
<rect x="162.11" y="395.00" width="1.1" height="21.50" fill="#2e9e2e"/>
<rect x="165.57" y="393.75" width="1.1" height="22.75" fill="#2e9e2e"/>
<rect x="169.03" y="392.50" width="1.1" height="24.00" fill="#2e9e2e"/>
<rect x="172.49" y="393.00" width="1.1" height="23.50" fill="#2e9e2e"/>
<rect x="175.95" y="393.75" width="1.1" height="22.75" fill="#2e9e2e"/>
<rect x="179.41" y="394.50" width="1.1" height="22.00" fill="#2e9e2e"/>
<rect x="182.87" y="395.00" width="1.1" height="21.50" fill="#2e9e2e"/>
<rect x="186.33" y="395.50" width="1.1" height="21.00" fill="#2e9e2e"/>
<rect x="189.79" y="397.50" width="1.1" height="19.00" fill="#2e9e2e"/>
<rect x="193.25" y="398.75" width="1.1" height="17.75" fill="#2e9e2e"/>
<rect x="196.71" y="399.50" width="1.1" height="17.00" fill="#2e9e2e"/>
<rect x="200.17" y="400.00" width="1.1" height="16.50" fill="#2e9e2e"/>
<rect x="203.63" y="402.00" width="1.1" height="14.50" fill="#2e9e2e"/>
<rect x="207.09" y="403.00" width="1.1" height="13.50" fill="#2e9e2e"/>
<rect x="210.55" y="403.75" width="1.1" height="12.75" fill="#2e9e2e"/>
<rect x="214.01" y="405.00" width="1.1" height="11.50" fill="#2e9e2e"/>
<rect x="217.47" y="412.50" width="1.1" height="4.00" fill="#2e9e2e"/>
<rect x="220.93" y="416.00" width="1.1" height="1.00" fill="#2e9e2e"/>
<rect x="224.39" y="416.50" width="1.1" height="2.25" fill="#2e9e2e"/>
<rect x="227.85" y="416.50" width="1.1" height="6.00" fill="#2e9e2e"/>
<rect x="231.31" y="416.50" width="1.1" height="8.50" fill="#2e9e2e"/>
<rect x="234.77" y="416.50" width="1.1" height="7.25" fill="#2e9e2e"/>
<rect x="238.23" y="416.50" width="1.1" height="1.00" fill="#2e9e2e"/>
<rect x="241.69" y="413.75" width="1.1" height="2.75" fill="#2e9e2e"/>
<rect x="245.15" y="413.00" width="1.1" height="3.50" fill="#2e9e2e"/>
<rect x="248.61" y="413.00" width="1.1" height="3.50" fill="#2e9e2e"/>
<rect x="252.07" y="416.00" width="1.1" height="1.00" fill="#2e9e2e"/>
<rect x="255.53" y="416.50" width="1.1" height="3.50" fill="#2e9e2e"/>
<rect x="258.99" y="416.50" width="1.1" height="1.50" fill="#2e9e2e"/>
<rect x="262.45" y="416.00" width="1.1" height="1.00" fill="#2e9e2e"/>
<rect x="265.91" y="416.00" width="1.1" height="1.00" fill="#2e9e2e"/>
<rect x="269.37" y="413.75" width="1.1" height="2.75" fill="#2e9e2e"/>
<rect x="272.83" y="413.00" width="1.1" height="3.50" fill="#2e9e2e"/>
<rect x="276.29" y="412.00" width="1.1" height="4.50" fill="#2e9e2e"/>
<rect x="279.75" y="414.25" width="1.1" height="2.25" fill="#2e9e2e"/>
<rect x="283.21" y="416.00" width="1.1" height="1.00" fill="#2e9e2e"/>
<rect x="286.67" y="415.00" width="1.1" height="1.50" fill="#2e9e2e"/>
<rect x="290.13" y="413.75" width="1.1" height="2.75" fill="#2e9e2e"/>
<rect x="293.59" y="416.00" width="1.1" height="1.00" fill="#2e9e2e"/>
<rect x="297.05" y="416.50" width="1.1" height="1.50" fill="#2e9e2e"/>
<rect x="300.51" y="416.50" width="1.1" height="3.00" fill="#2e9e2e"/>
<rect x="303.97" y="416.50" width="1.1" height="4.00" fill="#2e9e2e"/>
<rect x="307.43" y="416.50" width="1.1" height="3.00" fill="#2e9e2e"/>
<rect x="310.89" y="416.50" width="1.1" height="2.50" fill="#2e9e2e"/>
<rect x="314.35" y="416.50" width="1.1" height="3.50" fill="#2e9e2e"/>
<rect x="317.81" y="416.50" width="1.1" height="8.50" fill="#2e9e2e"/>
<rect x="321.27" y="416.50" width="1.1" height="9.75" fill="#2e9e2e"/>
<rect x="324.73" y="416.50" width="1.1" height="9.25" fill="#2e9e2e"/>
<rect x="328.19" y="416.50" width="1.1" height="8.50" fill="#2e9e2e"/>
<rect x="331.65" y="416.50" width="1.1" height="8.00" fill="#2e9e2e"/>
<rect x="335.11" y="416.50" width="1.1" height="7.25" fill="#2e9e2e"/>
<rect x="338.57" y="416.50" width="1.1" height="8.50" fill="#2e9e2e"/>
<rect x="342.03" y="416.50" width="1.1" height="11.00" fill="#2e9e2e"/>
<rect x="345.49" y="416.50" width="1.1" height="12.25" fill="#2e9e2e"/>
<rect x="348.95" y="416.50" width="1.1" height="12.25" fill="#2e9e2e"/>
<rect x="352.41" y="416.50" width="1.1" height="11.00" fill="#2e9e2e"/>
<rect x="355.87" y="416.50" width="1.1" height="19.75" fill="#2e9e2e"/>
<rect x="359.33" y="416.50" width="1.1" height="27.25" fill="#2e9e2e"/>
<rect x="362.79" y="416.50" width="1.1" height="32.25" fill="#2e9e2e"/>
<rect x="366.25" y="416.50" width="1.1" height="34.00" fill="#2e9e2e"/>
<rect x="369.71" y="416.50" width="1.1" height="31.50" fill="#2e9e2e"/>
<rect x="373.17" y="416.50" width="1.1" height="26.00" fill="#2e9e2e"/>
<rect x="376.63" y="416.50" width="1.1" height="21.00" fill="#2e9e2e"/>
<rect x="380.09" y="416.50" width="1.1" height="17.25" fill="#2e9e2e"/>
<rect x="383.55" y="416.50" width="1.1" height="12.25" fill="#2e9e2e"/>
<rect x="387.01" y="416.50" width="1.1" height="8.50" fill="#2e9e2e"/>
<rect x="390.47" y="416.50" width="1.1" height="6.00" fill="#2e9e2e"/>
<rect x="393.93" y="416.50" width="1.1" height="4.75" fill="#2e9e2e"/>
<rect x="397.39" y="416.50" width="1.1" height="6.00" fill="#2e9e2e"/>
<rect x="400.85" y="416.50" width="1.1" height="6.50" fill="#2e9e2e"/>
<rect x="404.31" y="416.50" width="1.1" height="4.75" fill="#2e9e2e"/>
<rect x="407.77" y="416.50" width="1.1" height="3.50" fill="#2e9e2e"/>
<rect x="411.23" y="416.50" width="1.1" height="2.25" fill="#2e9e2e"/>
<rect x="414.69" y="416.50" width="1.1" height="2.25" fill="#2e9e2e"/>
<rect x="418.15" y="416.50" width="1.1" height="3.00" fill="#2e9e2e"/>
<rect x="421.61" y="416.00" width="1.1" height="1.00" fill="#2e9e2e"/>
<rect x="425.07" y="413.75" width="1.1" height="2.75" fill="#2e9e2e"/>
<rect x="428.53" y="411.25" width="1.1" height="5.25" fill="#2e9e2e"/>
<rect x="431.99" y="409.50" width="1.1" height="7.00" fill="#2e9e2e"/>
<rect x="435.45" y="413.75" width="1.1" height="2.75" fill="#2e9e2e"/>
<rect x="438.91" y="413.25" width="1.1" height="3.25" fill="#2e9e2e"/>
<rect x="442.37" y="413.25" width="1.1" height="3.25" fill="#2e9e2e"/>
<rect x="445.83" y="413.25" width="1.1" height="3.25" fill="#2e9e2e"/>
<rect x="449.29" y="413.25" width="1.1" height="3.25" fill="#2e9e2e"/>
<rect x="452.75" y="414.00" width="1.1" height="2.50" fill="#2e9e2e"/>
<rect x="456.21" y="414.25" width="1.1" height="2.25" fill="#2e9e2e"/>
<rect x="459.67" y="414.25" width="1.1" height="2.25" fill="#2e9e2e"/>
<rect x="463.13" y="414.25" width="1.1" height="2.25" fill="#2e9e2e"/>
<rect x="466.59" y="414.75" width="1.1" height="1.75" fill="#2e9e2e"/>
<rect x="470.05" y="414.25" width="1.1" height="2.25" fill="#2e9e2e"/>
<rect x="473.51" y="412.00" width="1.1" height="4.50" fill="#2e9e2e"/>
<rect x="476.97" y="409.50" width="1.1" height="7.00" fill="#2e9e2e"/>
<rect x="480.43" y="406.25" width="1.1" height="10.25" fill="#2e9e2e"/>
<rect x="483.89" y="402.00" width="1.1" height="14.50" fill="#2e9e2e"/>
<rect x="487.35" y="400.75" width="1.1" height="15.75" fill="#2e9e2e"/>
<rect x="490.81" y="400.75" width="1.1" height="15.75" fill="#2e9e2e"/>
<rect x="494.27" y="401.25" width="1.1" height="15.25" fill="#2e9e2e"/>
<rect x="497.73" y="402.00" width="1.1" height="14.50" fill="#2e9e2e"/>
<rect x="501.19" y="405.00" width="1.1" height="11.50" fill="#2e9e2e"/>
<rect x="504.65" y="408.00" width="1.1" height="8.50" fill="#2e9e2e"/>
<rect x="508.11" y="414.50" width="1.1" height="2.00" fill="#2e9e2e"/>
<rect x="511.57" y="416.00" width="1.1" height="1.00" fill="#2e9e2e"/>
<rect x="515.03" y="416.50" width="1.1" height="4.75" fill="#2e9e2e"/>
<rect x="518.49" y="416.50" width="1.1" height="7.25" fill="#2e9e2e"/>
<rect x="521.95" y="416.50" width="1.1" height="9.25" fill="#2e9e2e"/>
<polyline points="3.4,430.0 12.0,427.0 20.0,422.0 28.0,417.0 36.0,416.0 44.0,419.0 52.0,428.0 60.0,440.0 68.0,449.0 76.0,454.0 86.0,456.0 96.0,456.4 104.0,457.0 112.0,461.0 120.0,466.5 127.5,472.0 135.0,475.0 142.5,472.5 150.0,462.5 157.5,451.2 165.0,438.8 172.5,426.2 180.0,415.0 187.5,403.8 195.0,395.0 202.5,385.0 210.0,376.2 217.5,372.5 225.0,374.5 232.5,378.0 240.0,378.8 247.5,377.0 255.0,378.8 262.5,379.2 270.0,377.5 277.5,375.5 285.0,373.8 295.0,373.0 305.0,375.5 315.0,378.8 325.0,385.0 335.0,392.5 345.0,400.0 352.5,406.2 358.8,415.0 363.8,430.0 370.0,445.0 377.5,456.2 385.0,462.5 392.5,466.2 400.0,470.0 410.0,472.5 420.0,475.0 427.5,472.5 435.0,470.5 445.0,467.5 452.5,465.5 465.0,463.0 475.0,460.0 482.5,452.5 490.0,443.8 497.5,436.2 505.0,432.0 512.5,431.2 521.2,435.5" fill="none" stroke="#ff3a3a" stroke-width="1.1" stroke-dasharray="2.6 2.2"/>
<polyline points="3.4,427.0 10.0,425.0 16.0,419.0 22.0,412.0 27.0,408.0 30.0,410.0 36.0,418.0 42.0,422.0 48.0,430.0 52.0,442.0 56.0,452.0 60.0,464.0 65.0,466.6 70.0,463.0 76.0,459.4 83.0,460.6 87.0,455.6 94.0,456.4 98.0,457.0 100.6,454.4 106.0,462.0 112.0,470.0 120.0,475.0 128.0,482.6 133.8,479.5 140.0,473.8 145.0,462.5 152.5,445.0 160.0,428.8 167.5,412.5 173.8,402.5 180.0,397.5 186.2,385.0 192.5,380.0 200.0,371.2 207.5,366.2 213.8,362.5 218.8,370.0 225.0,377.5 231.2,386.2 235.0,387.5 240.0,380.0 243.8,375.0 248.8,373.8 256.2,381.2 263.8,379.2 270.0,373.8 273.8,374.5 277.5,370.5 283.8,373.0 291.2,370.0 297.5,375.0 305.0,379.5 310.0,378.8 315.0,382.5 320.0,391.2 326.2,396.2 332.5,398.8 338.8,402.5 345.0,411.2 351.2,417.5 355.0,427.5 360.0,445.0 365.0,465.0 370.0,473.8 377.5,476.2 385.0,474.5 392.5,471.2 397.5,473.8 402.5,477.0 410.0,475.8 417.5,478.8 422.5,475.0 427.5,468.8 432.5,463.8 435.0,467.5 440.0,465.0 451.2,461.8 460.0,461.2 467.5,460.0 471.2,458.2 477.5,450.0 483.8,438.8 490.0,430.0 497.5,423.0 505.0,422.5 510.0,430.0 515.0,437.5 521.8,446.2" fill="none" stroke="#2a2aff" stroke-width="1.0" stroke-linejoin="round"/>
<rect x="659" y="45.5" width="2.4" height="1" fill="#444"/>
<text x="664.3" y="48.6" font-size="7.9" fill="#111" textLength="27.6" lengthAdjust="spacingAndGlyphs">1.23425</text>
<rect x="659" y="68.9" width="2.4" height="1" fill="#444"/>
<text x="664.3" y="72.0" font-size="7.9" fill="#111" textLength="27.6" lengthAdjust="spacingAndGlyphs">1.22870</text>
<rect x="659" y="92.3" width="2.4" height="1" fill="#444"/>
<text x="664.3" y="95.4" font-size="7.9" fill="#111" textLength="27.6" lengthAdjust="spacingAndGlyphs">1.22330</text>
<rect x="659" y="115.7" width="2.4" height="1" fill="#444"/>
<text x="664.3" y="118.8" font-size="7.9" fill="#111" textLength="27.6" lengthAdjust="spacingAndGlyphs">1.21775</text>
<rect x="659" y="139.1" width="2.4" height="1" fill="#444"/>
<text x="664.3" y="142.2" font-size="7.9" fill="#111" textLength="27.6" lengthAdjust="spacingAndGlyphs">1.21235</text>
<rect x="659" y="185.9" width="2.4" height="1" fill="#444"/>
<text x="664.3" y="189.0" font-size="7.9" fill="#111" textLength="27.6" lengthAdjust="spacingAndGlyphs">1.20140</text>
<rect x="659" y="232.7" width="2.4" height="1" fill="#444"/>
<text x="664.3" y="235.8" font-size="7.9" fill="#111" textLength="27.6" lengthAdjust="spacingAndGlyphs">1.19045</text>
<rect x="659" y="279.8" width="2.4" height="1" fill="#444"/>
<text x="664.3" y="282.9" font-size="7.9" fill="#111" textLength="27.6" lengthAdjust="spacingAndGlyphs">1.17950</text>
<rect x="659" y="303.3" width="2.4" height="1" fill="#444"/>
<text x="664.3" y="306.4" font-size="7.9" fill="#111" textLength="27.6" lengthAdjust="spacingAndGlyphs">1.17410</text>
<rect x="659" y="326.8" width="2.4" height="1" fill="#444"/>
<text x="664.3" y="329.9" font-size="7.9" fill="#111" textLength="27.6" lengthAdjust="spacingAndGlyphs">1.16855</text>
<rect x="660" y="159.9" width="35.5" height="7.8" fill="#ff0000"/>
<text x="664.4" y="166.6" font-size="7.9" fill="#fff" stroke="#fff" stroke-width="0.15" textLength="27.2" lengthAdjust="spacingAndGlyphs">1.20663</text>
<rect x="660" y="207.4" width="35.5" height="7.8" fill="#ff0000"/>
<text x="664.4" y="214.1" font-size="7.9" fill="#fff" stroke="#fff" stroke-width="0.15" textLength="27.2" lengthAdjust="spacingAndGlyphs">1.19564</text>
<rect x="660" y="253.0" width="35.5" height="7.8" fill="#ff0000"/>
<text x="664.4" y="259.7" font-size="7.9" fill="#fff" stroke="#fff" stroke-width="0.15" textLength="27.2" lengthAdjust="spacingAndGlyphs">1.18502</text>
<rect x="660" y="314.7" width="35.5" height="7.8" fill="#ff0000"/>
<text x="664.4" y="321.4" font-size="7.9" fill="#fff" stroke="#fff" stroke-width="0.15" textLength="27.2" lengthAdjust="spacingAndGlyphs">1.17063</text>
<rect x="660" y="346.3" width="35.5" height="7.8" fill="#ff0000"/>
<text x="664.4" y="353.0" font-size="7.9" fill="#fff" stroke="#fff" stroke-width="0.15" textLength="27.2" lengthAdjust="spacingAndGlyphs">1.16330</text>
<text x="662.8" y="363.1" font-size="7.9" fill="#111" textLength="31.4" lengthAdjust="spacingAndGlyphs">0.006626</text>
<text x="662.8" y="419.4" font-size="7.9" fill="#111" textLength="15.3" lengthAdjust="spacingAndGlyphs">0.00</text>
<text x="662.8" y="487.2" font-size="7.9" fill="#111" textLength="35" lengthAdjust="spacingAndGlyphs">-0.007946</text>
<rect x="659" y="416" width="2.4" height="1" fill="#444"/>
<path d="M6.3 43.1H12.3L9.3 46.2z" fill="#000"/>
<text x="16.9" y="47" font-size="7.9" fill="#111" textLength="54.1" lengthAdjust="spacingAndGlyphs">EURUSD,Daily</text>
<text x="77.8" y="47" font-size="7.9" fill="#111" textLength="121.2" lengthAdjust="spacingAndGlyphs">1.17187 1.17189 1.17108 1.17109</text>
<text x="7.1" y="363.9" font-size="7.9" fill="#111" textLength="171.4" lengthAdjust="spacingAndGlyphs">MACD(12,26,9) -0.003281 -0.002256 -0.001025</text>
<rect x="3.0" y="489" width="1" height="3" fill="#333"/>
<text x="3.0" y="498.2" font-size="7.9" fill="#111" textLength="44.2" lengthAdjust="spacingAndGlyphs">17 Feb 2021</text>
<rect x="58.3" y="489" width="1" height="3" fill="#333"/>
<text x="58.3" y="498.2" font-size="7.9" fill="#111" textLength="39.2" lengthAdjust="spacingAndGlyphs">8 Mar 2021</text>
<rect x="113.7" y="489" width="1" height="3" fill="#333"/>
<text x="113.7" y="498.2" font-size="7.9" fill="#111" textLength="44.2" lengthAdjust="spacingAndGlyphs">26 Mar 2021</text>
<rect x="169.0" y="489" width="1" height="3" fill="#333"/>
<text x="169.0" y="498.2" font-size="7.9" fill="#111" textLength="44.2" lengthAdjust="spacingAndGlyphs">14 Apr 2021</text>
<rect x="224.3" y="489" width="1" height="3" fill="#333"/>
<text x="224.3" y="498.2" font-size="7.9" fill="#111" textLength="39.2" lengthAdjust="spacingAndGlyphs">3 May 2021</text>
<rect x="279.6" y="489" width="1" height="3" fill="#333"/>
<text x="279.6" y="498.2" font-size="7.9" fill="#111" textLength="44.2" lengthAdjust="spacingAndGlyphs">21 May 2021</text>
<rect x="335.0" y="489" width="1" height="3" fill="#333"/>
<text x="335.0" y="498.2" font-size="7.9" fill="#111" textLength="39.2" lengthAdjust="spacingAndGlyphs">9 Jun 2021</text>
<rect x="390.3" y="489" width="1" height="3" fill="#333"/>
<text x="390.3" y="498.2" font-size="7.9" fill="#111" textLength="44.2" lengthAdjust="spacingAndGlyphs">28 Jun 2021</text>
<rect x="445.6" y="489" width="1" height="3" fill="#333"/>
<text x="445.6" y="498.2" font-size="7.9" fill="#111" textLength="44.2" lengthAdjust="spacingAndGlyphs">16 Jul 2021</text>
<rect x="501.0" y="489" width="1" height="3" fill="#333"/>
<text x="501.0" y="498.2" font-size="7.9" fill="#111" textLength="39.2" lengthAdjust="spacingAndGlyphs">4 Aug 2021</text>
</svg></body></html>
